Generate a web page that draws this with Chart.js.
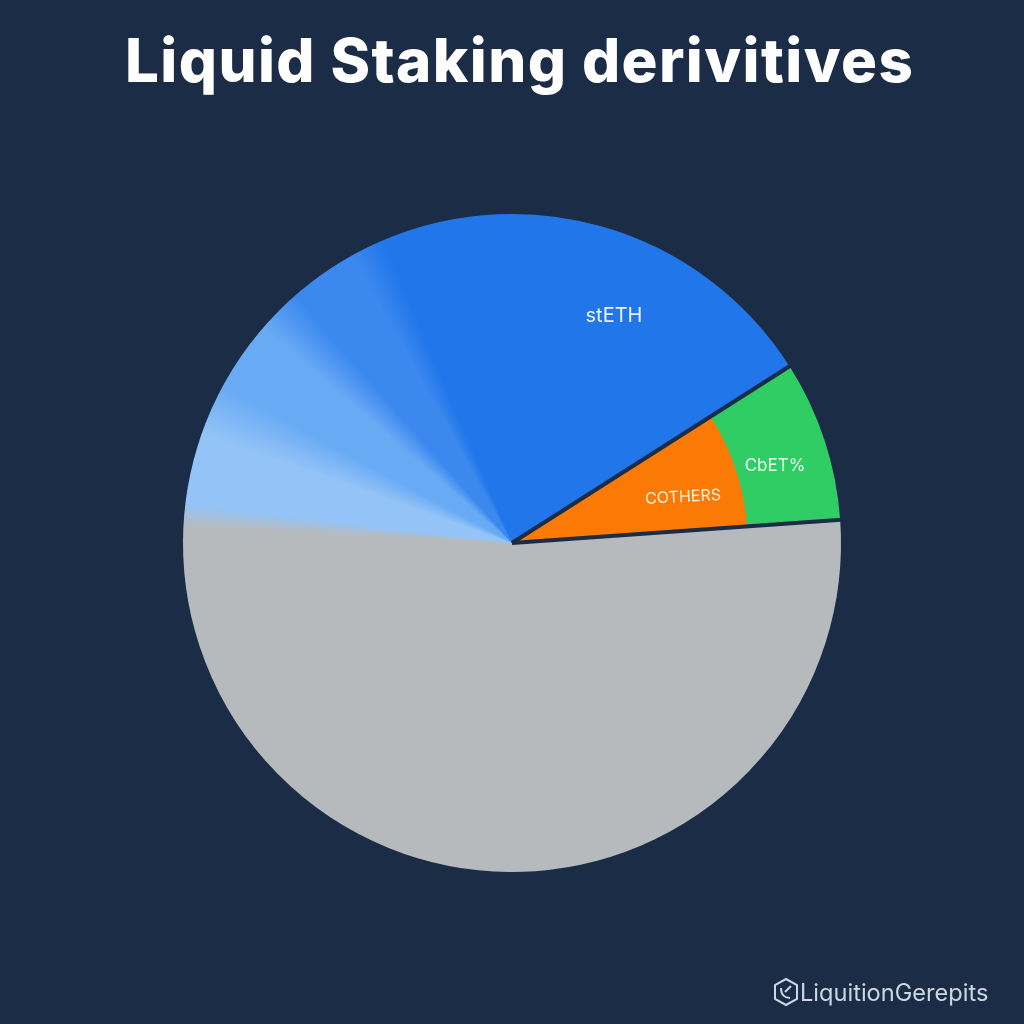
<!DOCTYPE html>
<html lang="en">
<head>
    <meta charset="UTF-8">
    <title>Liquid Staking derivitives</title>
    <script src="https://cdnjs.cloudflare.com/ajax/libs/Chart.js/4.4.1/chart.umd.min.js"></script>
    <style>
        body {
            margin: 0;
            width: 1024px;
            height: 1024px;
            position: relative;
            overflow: hidden;
            background-color: #1b2c47;
            font-family: Inter, sans-serif;
        }
        canvas { position: absolute; left: 0; top: 0; }
        h1 {
            position: absolute;
            left: 125px;
            top: 22px;
            margin: 0;
            color: #ffffff;
            font-size: 60px;
            line-height: 76px;
            font-weight: 800;
            letter-spacing: 1.4px;
            white-space: nowrap;
        }
        .label { position: absolute; white-space: nowrap; transform: translate(-50%, -50%); }
        .brand {
            position: absolute;
            left: 800px;
            top: 977px;
            color: #ced6e0;
            font-size: 23.6px;
            line-height: 32px;
        }
        svg { position: absolute; left: 772px; top: 977px; }
    </style>
</head>
<body>
    <h1>Liquid Staking derivitives</h1>
    <canvas id="pie" width="1024" height="1024"></canvas>
    <span class="label" style="left:614px;top:315px;font-size:20px;color:#eaf3ff">stETH</span>
    <span class="label" style="left:683px;top:496px;font-size:16px;color:#fff0d8;transform:translate(-50%,-50%) rotate(-3deg)">COTHERS</span>
    <span class="label" style="left:775px;top:465px;font-size:17px;color:#eafff0">CbET%</span>
    <svg width="28" height="30" viewBox="0 0 28 30">
        <path d="M14 2 L25 8 V22 L14 28 L3 22 V8 Z" fill="none" stroke="#ced6e0" stroke-width="2"/>
        <path d="M9 11 C9 18 13 21 18 21 M19 9 L13 15" fill="none" stroke="#ced6e0" stroke-width="2"/>
    </svg>
    <div class="brand">LiquitionGerepits</div>

    <script>
        // Slices, clockwise from the orange/green wedge
        const categories = ['COTHERS / CbET%', 'Gray', 'Fan 1', 'Fan 2', 'Fan 3', 'stETH'];
        const shares = [7.9, 52.5, 5.3, 5.8, 5.3, 23.2];
        const sliceColors = ['#fb7a05', '#b6babd', '#93c3f7', '#69aaf5', '#3b88ee', '#2176ea'];
        const wedgeOuterColor = '#30cd64';
        // Width in degrees of the soft edge after each slice
        const blendDegs = [0, 4, 9, 8, 6, 0];

        const startDeg = 57.5;
        const bg = '#1b2c47';

        // Soft edges between the blue slices, same gradient for every slice but the wedge
        let sweep = null;
        function sweepGradient(chart) {
            if (sweep) return sweep;
            const area = chart.chartArea;
            const g = chart.ctx.createConicGradient((startDeg - 90) * Math.PI / 180,
                (area.left + area.right) / 2, (area.top + area.bottom) / 2);
            const total = shares.reduce((a, b) => a + b, 0);
            let pos = shares[0] / total;
            for (let i = 1; i < shares.length; i++) {
                const next = pos + shares[i] / total;
                g.addColorStop(pos + blendDegs[i - 1] / 2 / 360, sliceColors[i]);
                g.addColorStop(next - blendDegs[i] / 2 / 360, sliceColors[i]);
                pos = next;
            }
            sweep = g;
            return g;
        }

        function fill(wedgeColor) {
            return (c) => {
                if (c.dataIndex === 0) return wedgeColor;
                return c.chart.chartArea ? sweepGradient(c.chart) : sliceColors[c.dataIndex];
            };
        }

        // Dark lines on both straight edges of the wedge
        const wedgeEdges = {
            id: 'wedgeEdges',
            afterDatasetsDraw(chart) {
                const arc = chart.getDatasetMeta(0).data[0];
                const { x, y, startAngle, endAngle, outerRadius } = arc.getProps(['x', 'y', 'startAngle', 'endAngle', 'outerRadius']);
                const ctx = chart.ctx;
                ctx.save();
                ctx.strokeStyle = bg;
                ctx.lineWidth = 4;
                ctx.lineCap = 'butt';
                [startAngle, endAngle].forEach((a) => {
                    ctx.beginPath();
                    ctx.moveTo(x, y);
                    ctx.lineTo(x + Math.cos(a) * (outerRadius + 2), y + Math.sin(a) * (outerRadius + 2));
                    ctx.stroke();
                });
                ctx.restore();
            }
        };

        new Chart(document.getElementById('pie'), {
            type: 'pie',
            data: {
                labels: categories,
                datasets: [
                    { data: shares, weight: 92, backgroundColor: fill(wedgeOuterColor), borderColor: fill(wedgeOuterColor), borderWidth: 2 },
                    { data: shares, weight: 238, backgroundColor: fill(sliceColors[0]), borderColor: fill(sliceColors[0]), borderWidth: 2 }
                ]
            },
            options: {
                responsive: false,
                animation: false,
                events: [],
                rotation: startDeg,
                layout: { padding: { left: 183, right: 183, top: 214, bottom: 152 } },
                plugins: { legend: { display: false }, tooltip: { enabled: false } }
            },
            plugins: [wedgeEdges]
        });
    </script>
</body>
</html>
